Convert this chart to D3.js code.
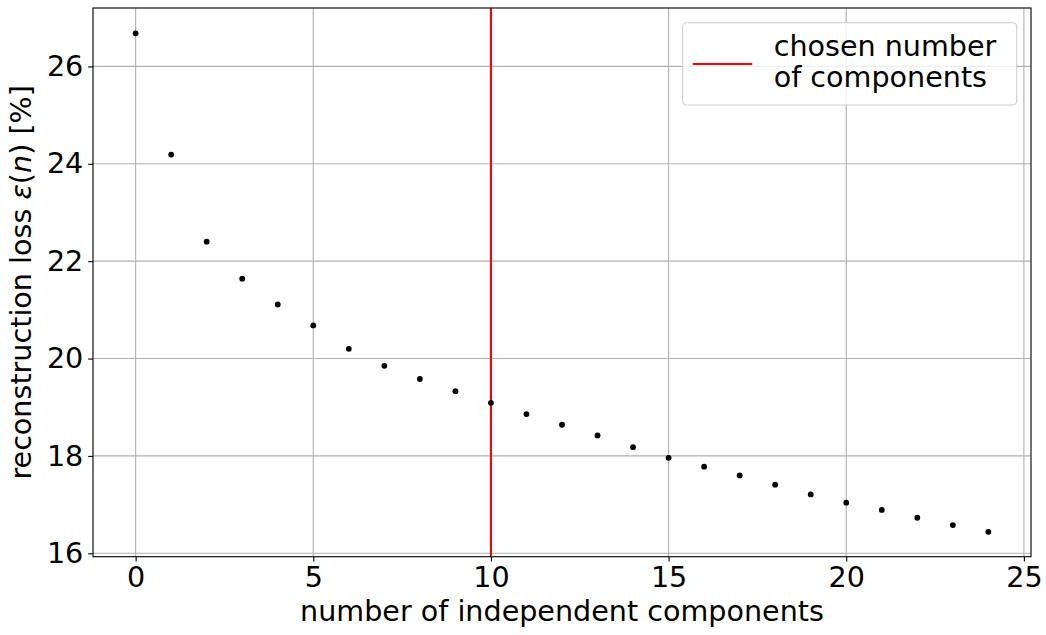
<!DOCTYPE html>
<html>
<head>
<meta charset="utf-8">
<script src="https://cdn.jsdelivr.net/npm/d3@7"></script>
<style>
  body { margin: 0; background: #fff; }
  text { font-family: "DejaVu Sans", sans-serif; }
</style>
</head>
<body>
<svg id="chart" width="1046" height="635"></svg>
<script>
// reconstruction loss per number of components
var nComponents = d3.range(0, 25);
var lossValues = [26.68, 24.19, 22.40, 21.64, 21.11, 20.68, 20.20, 19.85, 19.58, 19.33,
                  19.09, 18.86, 18.64, 18.42, 18.18, 17.96, 17.78, 17.60, 17.41, 17.21,
                  17.04, 16.89, 16.73, 16.58, 16.44];
var xTicks = [0, 5, 10, 15, 20, 25];
var yTicks = [16, 18, 20, 22, 24, 26];
var chosen = 10;

var svg = d3.select("#chart"),
    margin = {top: 8, right: 15, bottom: 78.3, left: 93},
    width = +svg.attr("width") - margin.left - margin.right,
    height = +svg.attr("height") - margin.top - margin.bottom,
    g = svg.append("g").attr("transform", "translate(" + margin.left + "," + margin.top + ")");

var fs = 28.6, lw = 1.11, tickLen = 4.86;

var x = d3.scaleLinear()
  .domain([-1.2, 25.2])
  .range([0, width]);

var y = d3.scaleLinear()
  .domain([15.93, 27.2])
  .range([height, 0]);

// gridlines
g.append("g")
  .selectAll("line.gx")
  .data(xTicks)
  .enter().append("line")
  .attr("x1", function(d) { return x(d); })
  .attr("x2", function(d) { return x(d); })
  .attr("y1", 0)
  .attr("y2", height)
  .attr("stroke", "#b0b0b0")
  .attr("stroke-width", lw);

g.append("g")
  .selectAll("line.gy")
  .data(yTicks)
  .enter().append("line")
  .attr("x1", 0)
  .attr("x2", width)
  .attr("y1", function(d) { return y(d); })
  .attr("y2", function(d) { return y(d); })
  .attr("stroke", "#b0b0b0")
  .attr("stroke-width", lw);

// chosen number line
g.append("line")
  .attr("x1", x(chosen))
  .attr("x2", x(chosen))
  .attr("y1", 0)
  .attr("y2", height)
  .attr("stroke", "#ff0000")
  .attr("stroke-width", 2.08);

// points
g.selectAll(".dot")
  .data(nComponents)
  .enter().append("circle")
  .attr("class", "dot")
  .attr("cx", function(d) { return x(d); })
  .attr("cy", function(d, i) { return y(lossValues[i]); })
  .attr("r", 2.9)
  .style("fill", "#000");

// axes
var xAxis = g.append("g")
  .attr("transform", "translate(0," + height + ")")
  .call(d3.axisBottom(x).tickValues(xTicks).tickSize(tickLen).tickPadding(4.86).tickFormat(d3.format("d")));

var yAxis = g.append("g")
  .call(d3.axisLeft(y).tickValues(yTicks).tickSize(tickLen).tickPadding(4.86).tickFormat(d3.format("d")));

[xAxis, yAxis].forEach(function(a) {
  a.select(".domain").remove();
  a.selectAll(".tick line").attr("stroke", "#000").attr("stroke-width", lw);
  a.selectAll(".tick text")
    .attr("fill", "#000")
    .style("font-size", fs + "px")
    .style("font-family", "DejaVu Sans");
});

// frame
g.append("rect")
  .attr("x", 0)
  .attr("y", 0)
  .attr("width", width)
  .attr("height", height)
  .attr("fill", "none")
  .attr("stroke", "#000")
  .attr("stroke-width", lw);

// axis labels
svg.append("text")
  .attr("x", margin.left + width / 2)
  .attr("y", 621)
  .attr("text-anchor", "middle")
  .style("font-size", fs + "px")
  .text("number of independent components");

var yl = svg.append("text")
  .attr("transform", "translate(31," + (margin.top + height / 2) + ") rotate(-90)")
  .attr("text-anchor", "middle")
  .style("font-size", fs + "px");
yl.append("tspan").text("reconstruction loss ");
yl.append("tspan").style("font-style", "italic").text("ε");
yl.append("tspan").text("(");
yl.append("tspan").style("font-style", "italic").text("n");
yl.append("tspan").text(") [%]");

// legend
var lg = svg.append("g").attr("transform", "translate(682.7,22.7)");
lg.append("rect")
  .attr("width", 334)
  .attr("height", 82.3)
  .attr("rx", 4)
  .attr("fill", "#fff")
  .attr("fill-opacity", 0.8)
  .attr("stroke", "#cccccc")
  .attr("stroke-width", lw);
lg.append("line")
  .attr("x1", 10)
  .attr("x2", 69.5)
  .attr("y1", 41.3)
  .attr("y2", 41.3)
  .attr("stroke", "#ff0000")
  .attr("stroke-width", 2.08);
lg.append("text").attr("x", 91).attr("y", 33).style("font-size", fs + "px").text("chosen number");
lg.append("text").attr("x", 91).attr("y", 64.5).style("font-size", fs + "px").text("of components");
</script>
</body>
</html>
